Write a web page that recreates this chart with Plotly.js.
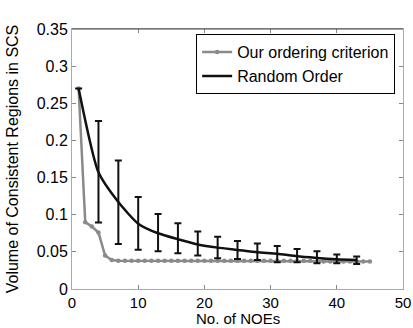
<!DOCTYPE html>
<html><head><meta charset="utf-8">
<script src="https://cdn.plot.ly/plotly-3.0.1.min.js"></script>
<style>html,body{margin:0;padding:0;background:#fff}#chart{width:413px;height:328px}</style>
</head><body><div id="chart"></div>
<script>
// Our ordering criterion (every NOE count 1..45)
const oursX = [1,2,3,4,5,6,7,8,9,10,11,12,13,14,15,16,17,18,19,20,21,22,23,24,25,26,27,28,29,30,31,32,33,34,35,36,37,38,39,40,41,42,43,44,45];
const oursY = [0.270,0.090,0.084,0.076,0.045,0.039,0.038,0.038,0.038,0.038,0.038,0.038,0.038,0.038,0.038,0.038,0.038,0.038,0.038,0.038,0.038,0.038,0.038,0.038,0.038,0.038,0.038,0.038,0.038,0.038,0.038,0.038,0.038,0.038,0.038,0.038,0.037,0.037,0.037,0.037,0.037,0.037,0.037,0.037,0.037];
// Random order (mean with min/max range)
const randX = [1,4,7,10,13,16,19,22,25,28,31,34,37,40,43];
const randY = [0.270,0.157,0.117,0.088,0.075,0.067,0.060,0.0557,0.0526,0.0494,0.0475,0.044,0.0418,0.040,0.039];
const randHi = [0.270,0.226,0.173,0.124,0.101,0.0886,0.0775,0.0704,0.0645,0.0614,0.058,0.054,0.0508,0.0463,0.0437];
const randLo = [0.270,0.0895,0.0605,0.053,0.0508,0.048,0.045,0.0414,0.0405,0.039,0.036,0.036,0.0347,0.0347,0.0338];
const xTicks = [0,10,20,30,40,50];
const yTicks = [0,0.05,0.1,0.15,0.2,0.25,0.3,0.35];
const yTickText = ['0','0.05','0.1','0.15','0.2','0.25','0.3','0.35'];
const xTitle = 'No. of NOEs';
const yTitle = 'Volume of Consistent Regions in SCS';

const errPlus = randHi.map((v,i)=>v-randY[i]);
const errMinus = randLo.map((v,i)=>randY[i]-v);

const traces = [
  {x: oursX, y: oursY, type:'scatter', mode:'lines+markers', name:'Our ordering criterion',
   line:{color:'#8a8a8a', width:2.5}, marker:{color:'#8a8a8a', size:4.5}},
  {x: randX, y: randY, type:'scatter', mode:'lines', name:'Random Order',
   line:{color:'#111', width:2.5, shape:'spline', smoothing:0.6},
   error_y:{type:'data', symmetric:false, array:errPlus, arrayminus:errMinus, color:'#111', thickness:2, width:3.5}}
];
const fam = '"Liberation Sans", Arial, sans-serif';
const layout = {
  width:413, height:328,
  margin:{l:72, r:10, t:29, b:39},
  paper_bgcolor:'#fff', plot_bgcolor:'#fff',
  font:{family:fam, size:16, color:'#000'},
  showlegend:true,
  legend:{x:0.375, y:0.98, xanchor:'left', yanchor:'top', bgcolor:'#fff', bordercolor:'#000', borderwidth:1,
          font:{family:fam, size:16, color:'#000'}, tracegroupgap:0, itemwidth:30},
  xaxis:{range:[0,50], tickvals:xTicks, ticktext:xTicks.map(String), ticks:'inside', ticklen:4, tickcolor:'#888',
         showline:true, linecolor:'#aaa', linewidth:1, mirror:'ticks', showgrid:false, zeroline:false,
         tickfont:{family:fam, size:15, color:'#000'}},
  yaxis:{range:[0,0.35], tickvals:yTicks, ticktext:yTickText, ticks:'inside', ticklen:4, tickcolor:'#888',
         showline:true, linecolor:'#aaa', linewidth:1, mirror:'ticks', showgrid:false, zeroline:false,
         tickfont:{family:fam, size:16, color:'#000'},
         title:{text:yTitle, font:{family:fam, size:16, color:'#000'}, standoff:14}},
  annotations:[{text:xTitle, xref:'paper', yref:'paper', x:0.5, y:-0.1506, xanchor:'center', yanchor:'bottom',
                showarrow:false, borderpad:0, font:{family:fam, size:15, color:'#000'}}],
  shapes:[{type:'line', xref:'paper', yref:'paper', x0:0, x1:1, y0:1, y1:1, line:{color:'#444', width:1.2}}]
};
Plotly.newPlot('chart', traces, layout, {displayModeBar:false, staticPlot:true});
</script></body></html>
